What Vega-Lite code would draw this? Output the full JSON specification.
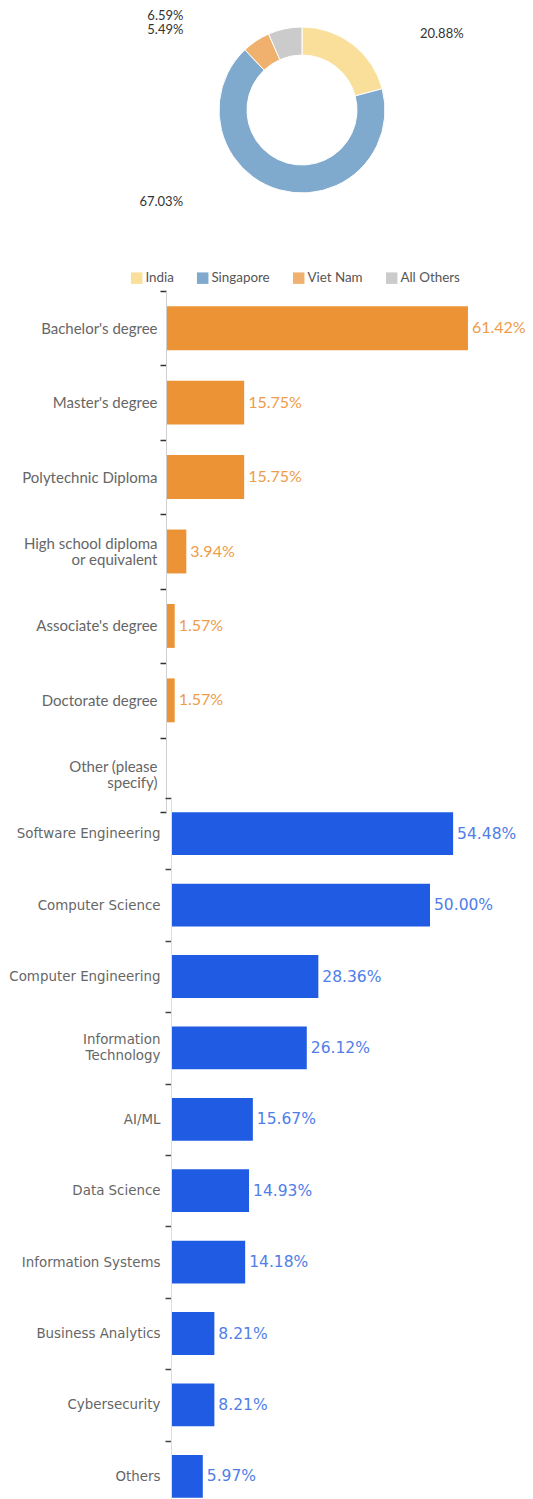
{
  "$schema": "https://vega.github.io/schema/vega-lite/v6.json",
  "padding": {"left": 8, "top": 0, "right": 0, "bottom": 0},
  "bounds": "flush",
  "spacing": 71,
  "config": {"view": {"stroke": null}, "font": "Lato"},
  "vconcat": [
    {
      "width": 260,
      "height": 220,
      "data": {"values": [
        {"country": "India", "share": 0.2088, "rank": 1},
        {"country": "Singapore", "share": 0.6703, "rank": 2},
        {"country": "Viet Nam", "share": 0.0549, "rank": 3},
        {"country": "All Others", "share": 0.0659, "rank": 4}
      ]},
      "encoding": {
        "theta": {"field": "share", "type": "quantitative", "stack": true},
        "order": {"field": "rank", "type": "quantitative"}
      },
      "layer": [
        {
          "mark": {"type": "arc", "outerRadius": 83, "innerRadius": 55, "stroke": "#ffffff", "strokeWidth": 1},
          "encoding": {
            "color": {
              "field": "country", "type": "nominal",
              "scale": {"domain": ["India", "Singapore", "Viet Nam", "All Others"], "range": ["#f9df9a", "#80aacd", "#f0b06e", "#cbcbcb"]},
              "legend": {"orient": "none", "legendX": -42, "legendY": 271, "direction": "horizontal", "title": null,
                "symbolType": "square", "symbolSize": 132, "symbolStrokeWidth": 0, "labelFont": "Lato", "labelFontSize": 13.4,
                "labelColor": "#555555", "columnPadding": 22, "labelOffset": 2, "padding": 0}
            }
          }
        },
        {
          "mark": {"type": "text", "radius": 95, "align": "left", "baseline": "middle", "dx": 60, "dy": -1, "fontSize": 13, "font": "Lato", "color": "#333333"},
          "encoding": {"text": {"condition": {"test": "datum.country === 'India'", "field": "share", "type": "quantitative", "format": ".2%"}, "value": ""}}
        },
        {
          "mark": {"type": "text", "radius": 95, "align": "right", "baseline": "middle", "dx": -93, "dy": 1, "fontSize": 13, "font": "Lato", "color": "#333333"},
          "encoding": {"text": {"condition": {"test": "datum.country === 'Singapore'", "field": "share", "type": "quantitative", "format": ".2%"}, "value": ""}}
        },
        {
          "mark": {"type": "text", "radius": 95, "align": "right", "baseline": "middle", "dx": -66, "dy": -1, "fontSize": 13, "font": "Lato", "color": "#333333"},
          "encoding": {"text": {"condition": {"test": "datum.country === 'Viet Nam'", "field": "share", "type": "quantitative", "format": ".2%"}, "value": ""}}
        },
        {
          "mark": {"type": "text", "radius": 95, "align": "right", "baseline": "middle", "dx": -99, "dy": -1, "fontSize": 13, "font": "Lato", "color": "#333333"},
          "encoding": {"text": {"condition": {"test": "datum.country === 'All Others'", "field": "share", "type": "quantitative", "format": ".2%"}, "value": ""}}
        }
      ]
    },
    {
      "width": 361,
      "height": 436,
      "data": {"values": [
        {"degree": "Bachelor's degree", "pct": 0.6142},
        {"degree": "Master's degree", "pct": 0.1575},
        {"degree": "Polytechnic Diploma", "pct": 0.1575},
        {"degree": "High school diploma or equivalent", "pct": 0.0394},
        {"degree": "Associate's degree", "pct": 0.0157},
        {"degree": "Doctorate degree", "pct": 0.0157},
        {"degree": "Other (please specify)", "pct": 0}
      ]},
      "encoding": {
        "y": {
          "field": "degree", "type": "nominal", "sort": null,
          "scale": {"range": [0, 521], "paddingInner": 0, "paddingOuter": 0},
          "axis": {"title": null, "offset": 6, "tickBand": "extent", "grid": false,
            "domainColor": "#d0d0d0", "tickColor": "#333333", "tickSize": 6, "tickWidth": 1.5,
            "labelPadding": 3, "labelFont": "Lato", "labelFontSize": 15, "labelColor": "#666666", "labelLineHeight": 16,
            "labelOffset": {"condition": {"test": "datum.value == 'High school diploma or equivalent' || datum.value == 'Other (please specify)'", "value": -8}, "value": 0},
            "labelExpr": "datum.value == 'High school diploma or equivalent' ? ['High school diploma', 'or equivalent'] : datum.value == 'Other (please specify)' ? ['Other (please', 'specify)'] : datum.label"}
        },
        "x": {"field": "pct", "type": "quantitative", "scale": {"domain": [0, 1], "range": [-5, 485]}, "axis": null}
      },
      "layer": [
        {"mark": {"type": "bar", "color": "#ec9335", "height": {"band": 0.59}}},
        {
          "transform": [{"filter": "datum.pct > 0"}],
          "mark": {"type": "text", "align": "left", "baseline": "middle", "dx": 4, "font": "Lato", "fontSize": 16, "color": "#ee9c49"},
          "encoding": {"text": {"field": "pct", "type": "quantitative", "format": ".2%"}}
        }
      ]
    },
    {
      "width": 361,
      "height": 714,
      "data": {"values": [
        {"field": "Software Engineering", "pct": 0.5448},
        {"field": "Computer Science", "pct": 0.5},
        {"field": "Computer Engineering", "pct": 0.2836},
        {"field": "Information Technology", "pct": 0.2612},
        {"field": "AI/ML", "pct": 0.1567},
        {"field": "Data Science", "pct": 0.1493},
        {"field": "Information Systems", "pct": 0.1418},
        {"field": "Business Analytics", "pct": 0.0821},
        {"field": "Cybersecurity", "pct": 0.0821},
        {"field": "Others", "pct": 0.0597}
      ]},
      "encoding": {
        "y": {
          "field": "field", "type": "nominal", "sort": null,
          "scale": {"paddingInner": 0, "paddingOuter": 0},
          "axis": {"title": null, "offset": 1, "tickBand": "extent", "grid": false,
            "domainColor": "#dddddd", "tickColor": "#444444", "tickSize": 6, "tickWidth": 1.5,
            "labelPadding": 5, "labelFont": "DejaVu Sans", "labelFontSize": 13.4, "labelColor": "#666666", "labelLineHeight": 16,
            "labelOffset": {"condition": {"test": "datum.value == 'Information Technology'", "value": -8}, "value": 0},
            "labelExpr": "datum.value == 'Information Technology' ? ['Information', 'Technology'] : datum.label"}
        },
        "x": {"field": "pct", "type": "quantitative", "scale": {"domain": [0, 1], "range": [0, 516]}, "axis": null}
      },
      "layer": [
        {"mark": {"type": "bar", "color": "#1f5ce3", "height": {"band": 0.6}}},
        {
          "mark": {"type": "text", "align": "left", "baseline": "middle", "dx": 4, "font": "DejaVu Sans", "fontSize": 15.5, "color": "#4f7ee8"},
          "encoding": {"text": {"field": "pct", "type": "quantitative", "format": ".2%"}}
        }
      ]
    }
  ]
}
